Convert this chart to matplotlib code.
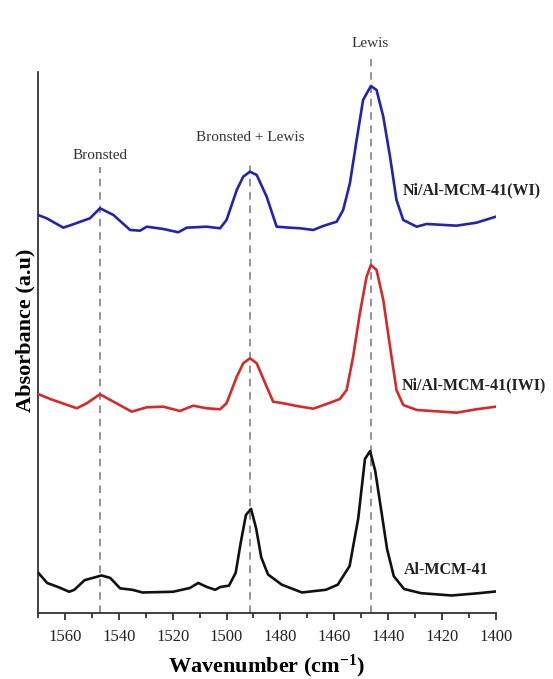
import matplotlib
matplotlib.use("Agg")
import matplotlib.pyplot as plt
from matplotlib.ticker import MultipleLocator, NullLocator

plt.rcParams['font.family'] = ['Liberation Serif', 'DejaVu Serif']
plt.rcParams['mathtext.fontset'] = 'custom'
plt.rcParams['mathtext.rm'] = 'Liberation Serif'
plt.rcParams['mathtext.bf'] = 'Liberation Serif:bold'
plt.rcParams['mathtext.it'] = 'Liberation Serif:italic'

# ---- data (wavenumber in cm-1, absorbance in a.u., curves stacked) ----
wn_wi = [1570, 1566.8, 1560.6, 1556.9, 1550.7, 1547.0, 1542.0, 1535.8, 1532.1, 1529.6,
         1523.5, 1517.9, 1514.8, 1507.4, 1502.4, 1500.0, 1496.2, 1493.8, 1491.3, 1488.8,
         1485.1, 1481.4, 1476.5, 1472.7, 1467.8, 1464.1, 1459.1, 1456.7, 1454.2, 1451.7,
         1449.3, 1446.4, 1444.3, 1441.8, 1439.3, 1436.9, 1434.4, 1429.4, 1425.7, 1414.6,
         1407.2, 1400.0]
abs_wi = [3.985, 3.952, 3.858, 3.892, 3.952, 4.052, 3.985, 3.835, 3.828, 3.868,
          3.845, 3.812, 3.858, 3.868, 3.852, 3.935, 4.235, 4.368, 4.418, 4.385,
          4.168, 3.868, 3.858, 3.852, 3.835, 3.875, 3.918, 4.035, 4.302, 4.735,
          5.135, 5.275, 5.235, 4.968, 4.568, 4.135, 3.935, 3.868, 3.895, 3.878,
          3.908, 3.968]

wn_iwi = [1570, 1565.5, 1555.6, 1551.9, 1547.0, 1542.0, 1535.2, 1529.6, 1523.5, 1517.3,
          1512.4, 1507.4, 1502.4, 1500.0, 1496.2, 1493.8, 1491.3, 1488.8, 1485.1, 1482.7,
          1478.9, 1474.0, 1467.8, 1462.8, 1457.9, 1455.4, 1453.0, 1450.5, 1448.0, 1446.4,
          1444.3, 1441.8, 1439.3, 1436.9, 1434.4, 1429.4, 1414.6, 1407.2, 1400.0]
abs_iwi = [2.195, 2.145, 2.052, 2.102, 2.192, 2.118, 2.018, 2.062, 2.068, 2.025,
           2.078, 2.052, 2.042, 2.102, 2.368, 2.502, 2.552, 2.502, 2.268, 2.118,
           2.102, 2.075, 2.048, 2.095, 2.145, 2.235, 2.568, 3.002, 3.368, 3.485,
           3.435, 3.135, 2.668, 2.235, 2.085, 2.035, 2.008, 2.042, 2.068]

wn_al = [1569.7, 1566.6, 1562.2, 1558.4, 1556.5, 1552.7, 1546.4, 1543.2, 1539.5, 1535.0,
         1531.2, 1519.9, 1513.6, 1510.5, 1507.3, 1504.2, 1502.3, 1499.1, 1496.6, 1494.7,
         1492.8, 1490.9, 1489.0, 1487.1, 1484.6, 1479.5, 1472.0, 1463.1, 1458.7, 1454.3,
         1451.1, 1448.6, 1446.7, 1444.8, 1442.3, 1440.4, 1437.9, 1434.1, 1427.8, 1416.4,
         1406.3, 1400.0]
abs_al = [0.401, 0.305, 0.261, 0.217, 0.237, 0.333, 0.380, 0.356, 0.251, 0.237,
          0.210, 0.217, 0.255, 0.305, 0.265, 0.237, 0.265, 0.278, 0.407, 0.713,
          0.985, 1.046, 0.849, 0.560, 0.390, 0.288, 0.210, 0.237, 0.288, 0.475,
          0.951, 1.546, 1.624, 1.427, 0.985, 0.645, 0.373, 0.245, 0.203, 0.180,
          0.203, 0.220]

series_names = ["Ni/Al-MCM-41(WI)", "Ni/Al-MCM-41(IWI)", "Al-MCM-41"]
series_label_pos = [(1434.5, 4.23), (1435.0, 2.28), (1434.0, 0.435)]

band_positions = [1547, 1491.3, 1446.5]
band_labels = ["Bronsted", "Bronsted + Lewis", "Lewis"]
band_label_y = [4.58, 4.755, 5.70]
band_line_top = [4.46, 4.52, 5.54]

x_min, x_max = 1570, 1400
y_min, y_max = 0, 5.415

# ---- figure ----
fig = plt.figure(figsize=(5.53, 6.79), dpi=100)
ax = fig.add_axes([0.0687, 0.0965, 0.828, 0.7975])

for xb, top in zip(band_positions, band_line_top):
    ax.plot([xb, xb], [y_min, top], color='#808080', lw=1.2,
            dashes=(4.5, 3.5), zorder=1, clip_on=False)

ax.plot(wn_wi, abs_wi, color='#2323b0', lw=1.9, zorder=3, solid_joinstyle='round')
ax.plot(wn_iwi, abs_iwi, color='#d42a2a', lw=1.9, zorder=3, solid_joinstyle='round')
ax.plot(wn_al, abs_al, color='#111111', lw=1.9, zorder=3, solid_joinstyle='round')

for xb, lab, yl in zip(band_positions, band_labels, band_label_y):
    ax.text(xb, yl, lab, ha='center', va='center', fontsize=11,
            color='#333333', clip_on=False)

for name, (xl, yl) in zip(series_names, series_label_pos):
    ax.text(xl, yl, name, ha='left', va='center', fontsize=11.5,
            fontweight='bold', color='#222222', clip_on=False)

ax.set_xlim(x_min, x_max)
ax.set_ylim(y_min, y_max)
ax.xaxis.set_major_locator(MultipleLocator(20))
ax.xaxis.set_minor_locator(MultipleLocator(10))
ax.yaxis.set_major_locator(NullLocator())
ax.tick_params(axis='x', which='major', direction='out', length=5, width=1.2,
               labelsize=12, colors='#222222', pad=6)
ax.tick_params(axis='x', which='minor', direction='out', length=3.5, width=1.2,
               colors='#222222')
for s in ['top', 'right']:
    ax.spines[s].set_visible(False)
for s in ['left', 'bottom']:
    ax.spines[s].set_linewidth(1.3)
    ax.spines[s].set_color('#333333')

ax.set_xlabel(r"Wavenumber (cm$^{\mathbf{-1}}$)", fontsize=16, fontweight='bold')
ax.xaxis.set_label_coords(0.5, -0.072)
ax.set_ylabel("Absorbance (a.u)", fontsize=16, fontweight='bold')
ax.yaxis.set_label_coords(-0.006, 0.522)

fig.savefig("out.png", dpi=100)
